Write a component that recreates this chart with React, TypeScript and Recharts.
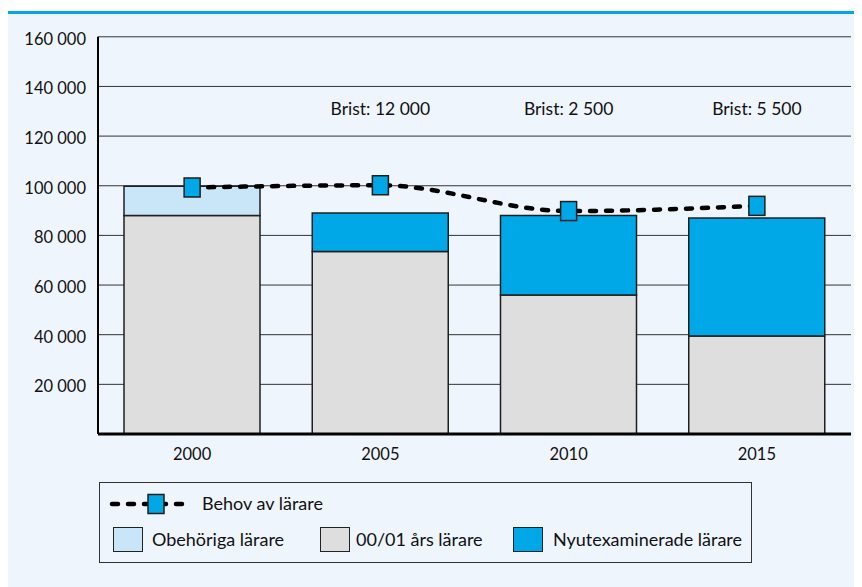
import React from 'react';
import {
  ComposedChart,
  Bar,
  Line,
  XAxis,
  YAxis,
  CartesianGrid,
  ReferenceDot,
} from 'recharts';

const years = ['2000', '2005', '2010', '2015'];
const lararna0001 = [88000, 73500, 56000, 39500];
const obehoriga = [11800, 0, 0, 0];
const nyutex = [0, 15500, 32000, 47500];
const behov = [99300, 100200, 89800, 91900];
const bristLabels = ['', 'Brist: 12 000', 'Brist: 2 500', 'Brist: 5 500'];
const bristLevel = 131000;
const yTicks = [20000, 40000, 60000, 80000, 100000, 120000, 140000, 160000];

const seriesNames = {
  behov: 'Behov av lärare',
  obehoriga: 'Obehöriga lärare',
  lararna0001: '00/01 års lärare',
  nyutex: 'Nyutexaminerade lärare',
};

const COLORS = {
  bg: '#EEF5FC',
  topLine: '#00A8E8',
  blue: '#00A8E8',
  lightBlue: '#C8E6F8',
  gray: '#DEDEDE',
  stroke: '#1f1f1f',
  text: '#111111',
};

const data = years.map((y, i) => ({
  year: y,
  lararna0001: lararna0001[i],
  obehoriga: obehoriga[i],
  nyutex: nyutex[i],
  behov: behov[i],
}));

const FONT = 'Lato, "DejaVu Sans", sans-serif';

const fmt = (v: number) => String(v).replace(/\B(?=(\d{3})+(?!\d))/g, ' ');

const SquareDot = (props: any) => {
  const { cx, cy } = props;
  if (cx == null || cy == null) return null;
  return (
    <rect
      x={cx - 8}
      y={cy - 9.5}
      width={16}
      height={19}
      fill={COLORS.blue}
      stroke={COLORS.stroke}
      strokeWidth={1.5}
    />
  );
};

const YTick = (props: any) => {
  const { x, y, payload } = props;
  return (
    <text x={x} y={y + 2} dy="0.355em" textAnchor="end" fill={COLORS.text} fontSize={16.5} fontFamily={FONT}>
      {fmt(payload.value)}
    </text>
  );
};

const LegendBox = () => (
  <div
    style={{
      position: 'absolute',
      left: 91,
      top: 474,
      width: 653,
      height: 81,
      boxSizing: 'border-box',
      border: '1px solid #333',
      background: COLORS.bg,
      fontFamily: FONT,
      fontSize: 18,
      color: COLORS.text,
    }}
  >
    <svg style={{ position: 'absolute', left: 0, top: 0 }} width={100} height={40}>
      <line
        x1={12}
        y1={21}
        x2={84}
        y2={21}
        stroke="#000"
        strokeWidth={4.5}
        strokeDasharray="6 10"
        strokeLinecap="round"
      />
      <rect x={48} y={11.5} width={16} height={19} fill={COLORS.blue} stroke={COLORS.stroke} strokeWidth={1.5} />
    </svg>
    <div style={{ position: 'absolute', left: 102, top: 9, lineHeight: '22px' }}>{seriesNames.behov}</div>
    {[
      { left: 13, color: COLORS.lightBlue, textLeft: 52, label: seriesNames.obehoriga },
      { left: 219.5, color: COLORS.gray, textLeft: 256, label: seriesNames.lararna0001 },
      { left: 413, color: COLORS.blue, textLeft: 453, label: seriesNames.nyutex },
    ].map((it) => (
      <React.Fragment key={it.label}>
        <div
          style={{
            position: 'absolute',
            left: it.left,
            top: 44,
            width: 30,
            height: 25,
            boxSizing: 'border-box',
            border: '1.5px solid #222',
            background: it.color,
          }}
        />
        <div style={{ position: 'absolute', left: it.textLeft, top: 45, lineHeight: '22px', whiteSpace: 'nowrap' }}>
          {it.label}
        </div>
      </React.Fragment>
    ))}
  </div>
);

export default function App() {
  return (
    <div style={{ position: 'relative', width: 854, height: 579, background: '#fff', fontFamily: FONT }}>
      <div style={{ position: 'absolute', left: 0, top: 3, width: 854, height: 2.5, background: COLORS.topLine }} />
      <div style={{ position: 'absolute', left: 0, top: 5.5, width: 854, height: 573.5, background: COLORS.bg }} />
      <div style={{ position: 'absolute', left: 0, top: 0 }}>
        <ComposedChart
          width={854}
          height={579}
          data={data}
          margin={{ top: 28.8, right: 11, left: 0, bottom: 123 }}
        >
          <CartesianGrid horizontal vertical={false} stroke="#333" strokeWidth={1} />
          <XAxis
            dataKey="year"
            tickLine={false}
            tickSize={6}
            tickMargin={8}
            height={30}
            axisLine={{ stroke: '#000', strokeWidth: 3 }}
            tick={{ fill: COLORS.text, fontSize: 16.5, fontFamily: FONT }}
          />
          <YAxis
            width={90}
            domain={[0, 160000]}
            ticks={yTicks}
            interval={0}
            tickLine={false}
            tickSize={6}
            tickMargin={6}
            axisLine={{ stroke: '#000', strokeWidth: 2 }}
            tick={<YTick />}
          />
          <Bar
            dataKey="lararna0001"
            stackId="a"
            barSize={136}
            fill={COLORS.gray}
            stroke={COLORS.stroke}
            strokeWidth={1.5}
            isAnimationActive={false}
          />
          <Bar
            dataKey="obehoriga"
            stackId="a"
            barSize={136}
            fill={COLORS.lightBlue}
            stroke={COLORS.stroke}
            strokeWidth={1.5}
            isAnimationActive={false}
          />
          <Bar
            dataKey="nyutex"
            stackId="a"
            barSize={136}
            fill={COLORS.blue}
            stroke={COLORS.stroke}
            strokeWidth={1.5}
            isAnimationActive={false}
          />
          <Line
            dataKey="behov"
            type="monotone"
            stroke="#000"
            strokeWidth={4.5}
            strokeDasharray="6 10"
            strokeLinecap="round"
            dot={<SquareDot />}
            activeDot={false}
            isAnimationActive={false}
          />
          {years.map((y, i) =>
            bristLabels[i] ? (
              <ReferenceDot
                key={y}
                x={y}
                y={bristLevel}
                r={0}
                fill="none"
                stroke="none"
                label={{ value: bristLabels[i], position: 'center', fill: COLORS.text, fontSize: 17.5, fontFamily: FONT }}
              />
            ) : null
          )}
        </ComposedChart>
      </div>
      <LegendBox />
    </div>
  );
}
